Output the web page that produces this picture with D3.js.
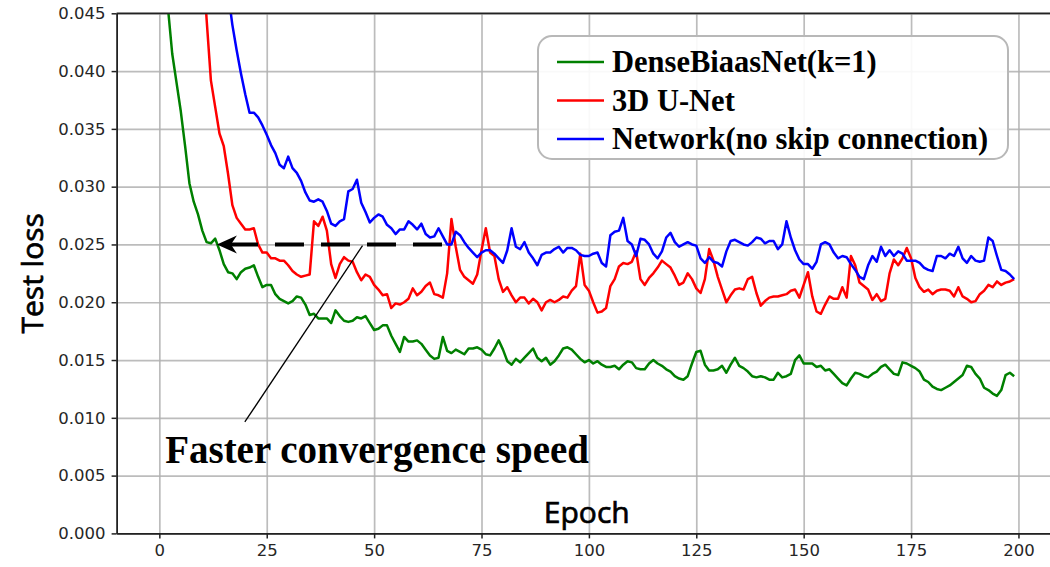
<!DOCTYPE html>
<html>
<head>
<meta charset="utf-8">
<script src="https://cdn.jsdelivr.net/npm/d3@7/dist/d3.min.js"></script>
<style>
  body { margin: 0; background: #fff; }
</style>
</head>
<body>
<div id="chart"></div>
<script>
//Data (test loss per epoch)

const seriesNames = ["DenseBiaasNet(k=1)", "3D U-Net", "Network(no skip connection)"];
const seriesColors = ["#008000", "#ff0000", "#0000ff"];

const xTicks = [0, 25, 50, 75, 100, 125, 150, 175, 200];
const yTicks = [0, 0.005, 0.010, 0.015, 0.020, 0.025, 0.030, 0.035, 0.040, 0.045];

const denseLoss = [
  0.0550, 0.0495, 0.0455, 0.0415, 0.0390, 0.0365, 0.0335, 0.0303, 0.0287, 0.0276,
  0.0262, 0.0252, 0.0251, 0.0255, 0.0245, 0.0233, 0.0226, 0.0225, 0.0220, 0.0226,
  0.0229, 0.0230, 0.0232, 0.0222, 0.0213, 0.0215, 0.0215, 0.0207, 0.0203, 0.0201,
  0.0199, 0.0201, 0.0205, 0.0204, 0.0198, 0.0189, 0.0190, 0.0186, 0.0186, 0.0186,
  0.0182, 0.0193, 0.0188, 0.0184, 0.0183, 0.0184, 0.0187, 0.0186, 0.0188, 0.0182,
  0.0176, 0.0177, 0.0180, 0.0180, 0.0171, 0.0164, 0.0157, 0.0170, 0.0166, 0.0166,
  0.0167, 0.0164, 0.0159, 0.0154, 0.0151, 0.0152, 0.0170, 0.0158, 0.0156, 0.0159,
  0.0157, 0.0155, 0.0160, 0.0160, 0.0161, 0.0159, 0.0155, 0.0154, 0.0160, 0.0167,
  0.0159, 0.0149, 0.0146, 0.0151, 0.0148, 0.0152, 0.0156, 0.0160, 0.0152, 0.0149,
  0.0152, 0.0146, 0.0149, 0.0154, 0.0160, 0.0161, 0.0159, 0.0155, 0.0151, 0.0148,
  0.0150, 0.0147, 0.0149, 0.0146, 0.0144, 0.0144, 0.0145, 0.0142, 0.0146, 0.0149,
  0.0148, 0.0143, 0.0142, 0.0142, 0.0147, 0.0150, 0.0147, 0.0145, 0.0142, 0.0140,
  0.0136, 0.0134, 0.0133, 0.0136, 0.0147, 0.0157, 0.0158, 0.0146, 0.0141, 0.0141,
  0.0142, 0.0145, 0.0139, 0.0146, 0.0152, 0.0145, 0.0143, 0.0140, 0.0136, 0.0135,
  0.0136, 0.0135, 0.0133, 0.0133, 0.0139, 0.0135, 0.0136, 0.0138, 0.0150, 0.0154,
  0.0147, 0.0147, 0.0147, 0.0144, 0.0145, 0.0141, 0.0142, 0.0138, 0.0134, 0.0130,
  0.0128, 0.0134, 0.0139, 0.0138, 0.0136, 0.0135, 0.0138, 0.0140, 0.0144, 0.0146,
  0.0142, 0.0138, 0.0137, 0.0148, 0.0147, 0.0145, 0.0143, 0.0140, 0.0133, 0.0131,
  0.0127, 0.0125, 0.0124, 0.0126, 0.0128, 0.0131, 0.0134, 0.0137, 0.0145, 0.0144,
  0.0138, 0.0134, 0.0126, 0.0124, 0.0121, 0.0119, 0.0124, 0.0137, 0.0139, 0.0136
];

const unetLoss = [
  0.1000, 0.0940, 0.0880, 0.0830, 0.0780, 0.0730, 0.0680, 0.0640, 0.0600, 0.0550,
  0.0505, 0.0445, 0.0392, 0.0369, 0.0346, 0.0335, 0.0311, 0.0284, 0.0273, 0.0268,
  0.0263, 0.0263, 0.0264, 0.0250, 0.0243, 0.0243, 0.0238, 0.0238, 0.0236, 0.0236,
  0.0232, 0.0227, 0.0224, 0.0222, 0.0223, 0.0224, 0.0270, 0.0266, 0.0274, 0.0262,
  0.0233, 0.0221, 0.0233, 0.0239, 0.0236, 0.0235, 0.0226, 0.0219, 0.0224, 0.0222,
  0.0215, 0.0211, 0.0206, 0.0207, 0.0195, 0.0199, 0.0198, 0.0200, 0.0203, 0.0212,
  0.0206, 0.0209, 0.0214, 0.0217, 0.0207, 0.0206, 0.0204, 0.0225, 0.0272, 0.0248,
  0.0228, 0.0222, 0.0219, 0.0216, 0.0224, 0.0245, 0.0264, 0.0243, 0.0240, 0.0220,
  0.0209, 0.0213, 0.0206, 0.0200, 0.0204, 0.0204, 0.0199, 0.0203, 0.0200, 0.0193,
  0.0200, 0.0202, 0.0200, 0.0202, 0.0205, 0.0204, 0.0210, 0.0214, 0.0242, 0.0215,
  0.0210, 0.0200, 0.0191, 0.0192, 0.0195, 0.0214, 0.0220, 0.0231, 0.0234, 0.0233,
  0.0235, 0.0244, 0.0220, 0.0215, 0.0221, 0.0225, 0.0230, 0.0236, 0.0233, 0.0230,
  0.0223, 0.0215, 0.0217, 0.0225, 0.0220, 0.0212, 0.0208, 0.0220, 0.0246, 0.0236,
  0.0222, 0.0211, 0.0200, 0.0206, 0.0211, 0.0212, 0.0211, 0.0220, 0.0222, 0.0208,
  0.0197, 0.0201, 0.0204, 0.0205, 0.0205, 0.0206, 0.0207, 0.0210, 0.0211, 0.0204,
  0.0215, 0.0226, 0.0205, 0.0192, 0.0190, 0.0198, 0.0205, 0.0203, 0.0203, 0.0213,
  0.0204, 0.0240, 0.0232, 0.0217, 0.0214, 0.0211, 0.0202, 0.0207, 0.0201, 0.0203,
  0.0225, 0.0237, 0.0232, 0.0238, 0.0247, 0.0238, 0.0221, 0.0213, 0.0209, 0.0211,
  0.0207, 0.0210, 0.0211, 0.0211, 0.0210, 0.0205, 0.0213, 0.0205, 0.0203, 0.0200,
  0.0201, 0.0207, 0.0210, 0.0215, 0.0213, 0.0218, 0.0215, 0.0217, 0.0218, 0.0220
];

const noSkipLoss = [
  0.1200, 0.1100, 0.1020, 0.0950, 0.0890, 0.0840, 0.0790, 0.0750, 0.0720, 0.0690,
  0.0660, 0.0620, 0.0580, 0.0545, 0.0515, 0.0490, 0.0468, 0.0440, 0.0418, 0.0398,
  0.0380, 0.0364, 0.0364, 0.0360, 0.0353, 0.0345, 0.0336, 0.0329, 0.0319, 0.0316,
  0.0326, 0.0316, 0.0312, 0.0305, 0.0295, 0.0288, 0.0287, 0.0289, 0.0287, 0.0279,
  0.0268, 0.0266, 0.0270, 0.0272, 0.0296, 0.0298, 0.0306, 0.0286, 0.0278, 0.0269,
  0.0273, 0.0276, 0.0274, 0.0267, 0.0264, 0.0259, 0.0263, 0.0263, 0.0270, 0.0267,
  0.0263, 0.0268, 0.0259, 0.0256, 0.0257, 0.0264, 0.0257, 0.0250, 0.0250, 0.0261,
  0.0258, 0.0252, 0.0247, 0.0243, 0.0239, 0.0243, 0.0245, 0.0245, 0.0242, 0.0238,
  0.0234, 0.0245, 0.0264, 0.0248, 0.0246, 0.0252, 0.0243, 0.0238, 0.0232, 0.0241,
  0.0243, 0.0243, 0.0246, 0.0248, 0.0243, 0.0247, 0.0247, 0.0245, 0.0241, 0.0240,
  0.0240, 0.0242, 0.0243, 0.0234, 0.0231, 0.0258, 0.0261, 0.0262, 0.0273, 0.0253,
  0.0250, 0.0240, 0.0255, 0.0254, 0.0250, 0.0242, 0.0238, 0.0244, 0.0256, 0.0260,
  0.0252, 0.0248, 0.0250, 0.0252, 0.0250, 0.0249, 0.0238, 0.0234, 0.0239, 0.0235,
  0.0234, 0.0231, 0.0244, 0.0253, 0.0254, 0.0252, 0.0250, 0.0249, 0.0252, 0.0256,
  0.0255, 0.0251, 0.0253, 0.0253, 0.0246, 0.0250, 0.0270, 0.0256, 0.0245, 0.0237,
  0.0233, 0.0233, 0.0229, 0.0235, 0.0250, 0.0252, 0.0250, 0.0243, 0.0238, 0.0240,
  0.0239, 0.0233, 0.0228, 0.0222, 0.0220, 0.0232, 0.0240, 0.0235, 0.0248, 0.0240,
  0.0245, 0.0240, 0.0244, 0.0242, 0.0236, 0.0236, 0.0236, 0.0234, 0.0230, 0.0228,
  0.0227, 0.0240, 0.0240, 0.0238, 0.0242, 0.0240, 0.0248, 0.0238, 0.0234, 0.0240,
  0.0236, 0.0235, 0.0236, 0.0256, 0.0253, 0.0240, 0.0228, 0.0227, 0.0224, 0.0220
];

const allSeries = [denseLoss, unetLoss, noSkipLoss];

//Set Dimensions

const width = 1050, height = 567;
const plotLeft = 116.6, plotRight = 1056.9, plotTop = 13.3, plotBottom = 533.4;

//Scales (matplotlib style: 5% margin on x, y fixed 0..0.045)

const x = d3.scaleLinear().domain([-9.95, 208.95]).range([plotLeft, plotRight]);
const y = d3.scaleLinear().domain([0, 0.045]).range([plotBottom, plotTop]);

const svg = d3.select("#chart")
  .append("svg")
  .attr("width", width)
  .attr("height", height)
  .style("font-family", "'DejaVu Sans', sans-serif");

svg.append("defs").append("clipPath")
  .attr("id", "plot-clip")
  .append("rect")
  .attr("x", plotLeft).attr("y", plotTop)
  .attr("width", plotRight - plotLeft).attr("height", plotBottom - plotTop);

//Grid

const gridX = svg.append("g")
  .attr("transform", `translate(0,${plotBottom})`)
  .call(d3.axisBottom(x).tickValues(xTicks).tickSize(-(plotBottom - plotTop)).tickFormat(""));
const gridY = svg.append("g")
  .attr("transform", `translate(${plotLeft},0)`)
  .call(d3.axisLeft(y).tickValues(yTicks).tickSize(-(plotRight - plotLeft)).tickFormat(""));
[gridX, gridY].forEach(g => {
  g.select(".domain").remove();
  g.selectAll("line").attr("stroke", "#b0b0b0").attr("stroke-width", 1.7).attr("opacity", 0.85);
});

//Lines

const line = d3.line()
  .x((d, i) => x(i))
  .y(d => y(d));

svg.append("g")
  .attr("clip-path", "url(#plot-clip)")
  .selectAll("path")
  .data(allSeries)
  .join("path")
  .attr("fill", "none")
  .attr("stroke", (d, i) => seriesColors[i])
  .attr("stroke-width", 2.5)
  .attr("stroke-linejoin", "round")
  .attr("d", line);

//Axes

const xAxis = svg.append("g")
  .attr("transform", `translate(0,${plotBottom})`)
  .call(d3.axisBottom(x).tickValues(xTicks).tickSize(5).tickSizeOuter(0).tickPadding(6));
const yAxis = svg.append("g")
  .attr("transform", `translate(${plotLeft},0)`)
  .call(d3.axisLeft(y).tickValues(yTicks).tickFormat(d3.format(".3f")).tickSize(5).tickSizeOuter(0).tickPadding(6));
[xAxis, yAxis].forEach(g => {
  g.select(".domain").attr("stroke", "#222").attr("stroke-width", 1.8);
  g.selectAll(".tick line").attr("stroke", "#222").attr("stroke-width", 1.5);
  g.selectAll(".tick text")
    .attr("fill", "#262626")
    .style("font-size", "16.5px")
    .style("font-family", "'DejaVu Sans', sans-serif");
});

//top spine

svg.append("line")
  .attr("x1", plotLeft).attr("x2", plotRight)
  .attr("y1", y(0.045)).attr("y2", y(0.045))
  .attr("stroke", "#222").attr("stroke-width", 1.8);

//Axis labels

svg.append("text")
  .attr("x", (plotLeft + plotRight) / 2)
  .attr("y", 523)
  .attr("text-anchor", "middle")
  .style("font-family", "'Open Sans', sans-serif")
  .style("font-size", "30px")
  .attr("fill", "#000")
  .attr("stroke", "#000").attr("stroke-width", 0.7)
  .text("Epoch");

svg.append("text")
  .attr("transform", `translate(43,${(plotTop + plotBottom) / 2}) rotate(-90)`)
  .attr("text-anchor", "middle")
  .style("font-family", "'Open Sans', sans-serif")
  .style("font-size", "30px")
  .attr("fill", "#000")
  .attr("stroke", "#000").attr("stroke-width", 0.7)
  .text("Test loss");

//Annotation: dashed arrow + pointer line + text

const arrowY = y(0.025);
const tipX = x(13.4);

svg.append("line")
  .attr("x1", x(65.8)).attr("x2", tipX + 12)
  .attr("y1", arrowY).attr("y2", arrowY)
  .attr("stroke", "#000")
  .attr("stroke-width", 4)
  .attr("stroke-dasharray", "29,17");

svg.append("path")
  .attr("d", `M${tipX},${arrowY} L${tipX + 20},${arrowY - 9} L${tipX + 14},${arrowY} L${tipX + 20},${arrowY + 9} Z`)
  .attr("fill", "#000");

svg.append("line")
  .attr("x1", x(19.9)).attr("y1", y(0.00964))
  .attr("x2", x(47.3)).attr("y2", y(0.0249))
  .attr("stroke", "#000")
  .attr("stroke-width", 1.3);

svg.append("text")
  .attr("x", x(1.35))
  .attr("y", y(0.0061))
  .style("font-family", "'Liberation Serif', 'Times New Roman', serif")
  .style("font-weight", "bold")
  .style("font-size", "39px")
  .attr("fill", "#000")
  .text("Faster convergence speed");

//Legend

const legend = svg.append("g").attr("transform", "translate(538,36)");

legend.append("rect")
  .attr("width", 470).attr("height", 123)
  .attr("rx", 14).attr("ry", 14)
  .attr("fill", "#fff").attr("fill-opacity", 0.9)
  .attr("stroke", "#b8b8b8").attr("stroke-width", 2);

const items = legend.selectAll("g.item")
  .data(seriesNames)
  .join("g")
  .attr("class", "item")
  .attr("transform", (d, i) => `translate(0,${26 + i * 38.5})`);

items.append("line")
  .attr("x1", 19).attr("x2", 66)
  .attr("stroke", (d, i) => seriesColors[i])
  .attr("stroke-width", 2.5);

items.append("text")
  .attr("x", 74)
  .attr("dy", "0.33em")
  .style("font-family", "'Liberation Serif', 'Times New Roman', serif")
  .style("font-weight", "bold")
  .style("font-size", "30.5px")
  .attr("fill", "#000")
  .text(d => d);
</script>
</body>
</html>
